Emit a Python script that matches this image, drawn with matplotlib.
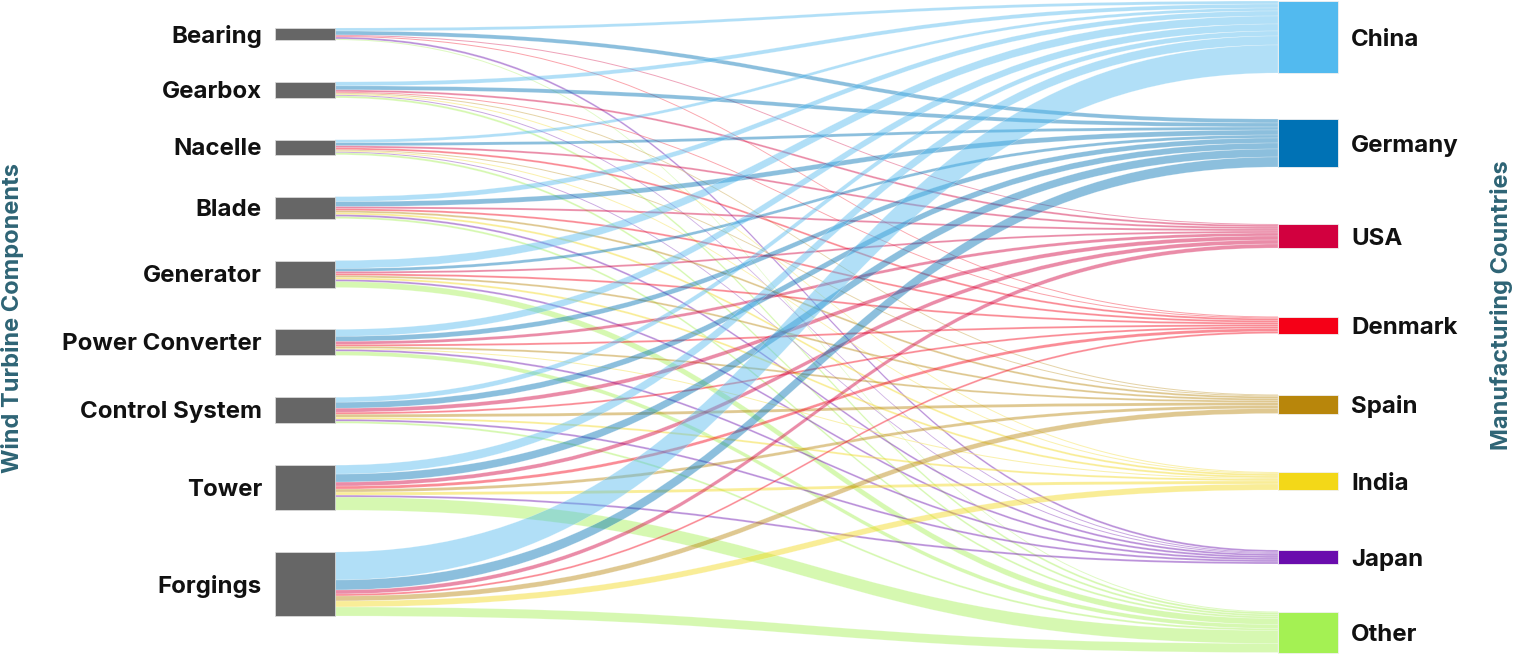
import matplotlib
matplotlib.use("Agg")
import matplotlib.pyplot as plt
from matplotlib.path import Path
from matplotlib.patches import PathPatch, Rectangle
from matplotlib.colors import to_rgba

plt.rcParams["font.family"] = ["Inter", "DejaVu Sans"]

components = ["Bearing", "Gearbox", "Nacelle", "Blade", "Generator",
              "Power Converter", "Control System", "Tower", "Forgings"]
countries = ["China", "Germany", "USA", "Denmark", "Spain", "India", "Japan", "Other"]
country_colors = ["#52BAEF", "#0072B5", "#D2003F", "#F50017",
                  "#B8860B", "#F3D818", "#6A0DAD", "#A4F153"]

# flow values: one row per component, columns follow `countries`
flows = [
    [3, 4, 1, 1, 0, 0, 2, 1],     # Bearing
    [4, 4, 2, 1, 1, 1, 1, 2],     # Gearbox
    [3, 3, 2, 2, 1, 1, 1, 2],     # Nacelle
    [5, 5, 2, 2, 2, 2, 2, 2],     # Blade
    [8, 3, 2, 2, 2, 2, 2, 6],     # Generator
    [7, 5, 3, 2, 2, 1, 2, 4],     # Power Converter
    [5, 6, 4, 2, 3, 2, 2, 2],     # Control System
    [9, 8, 4, 3, 3, 3, 2, 13],    # Tower
    [28, 10, 4, 2, 5, 6, 0, 9],   # Forgings
]

# layout (figure pixels)
W, H = 1517, 654
left_x0, left_x1 = 275, 335
right_x0, right_x1 = 1278, 1338
left_top, left_bottom = 28, 616
right_centers = [37, 143, 236, 325, 404, 481, 557, 632]

fig = plt.figure(figsize=(W / 100, H / 100), dpi=100)
ax = fig.add_axes([0, 0, 1, 1])
ax.set_xlim(0, W)
ax.set_ylim(H, 0)
ax.axis("off")

src_tot = [sum(r) for r in flows]
tgt_tot = [sum(flows[i][j] for i in range(len(components))) for j in range(len(countries))]
scale = 1.0
gap = (left_bottom - left_top - scale * sum(src_tot)) / (len(components) - 1)

src_y = []
y = left_top
for t in src_tot:
    src_y.append(y)
    y += t * scale + gap
tgt_y = [c - t * scale / 2 for c, t in zip(right_centers, tgt_tot)]

# links
src_off = list(src_y)
tgt_off = list(tgt_y)
xm = (left_x1 + right_x0) / 2
for i in range(len(components)):
    for j in range(len(countries)):
        v = flows[i][j] * scale
        if v <= 0:
            continue
        s0, s1 = src_off[i], src_off[i] + v
        t0, t1 = tgt_off[j], tgt_off[j] + v
        src_off[i] = s1
        tgt_off[j] = t1
        verts = [(left_x1, s0), (xm, s0), (xm, t0), (right_x0, t0),
                 (right_x0, t1), (xm, t1), (xm, s1), (left_x1, s1), (left_x1, s0)]
        codes = [Path.MOVETO, Path.CURVE4, Path.CURVE4, Path.CURVE4,
                 Path.LINETO, Path.CURVE4, Path.CURVE4, Path.CURVE4, Path.CLOSEPOLY]
        ax.add_patch(PathPatch(Path(verts, codes),
                               facecolor=to_rgba(country_colors[j], 0.45),
                               edgecolor=(1, 1, 1, 0.35), lw=0.4))

# nodes
for i, name in enumerate(components):
    h = src_tot[i] * scale
    ax.add_patch(Rectangle((left_x0, src_y[i]), left_x1 - left_x0, h,
                           facecolor="#666666", edgecolor="#d8d8d8", lw=0.6, zorder=3))
    ax.text(left_x0 - 13, src_y[i] + h / 2 + 2, name, ha="right", va="center",
            fontsize=17.3, fontweight="bold", color="#111111")

for j, name in enumerate(countries):
    h = tgt_tot[j] * scale
    ax.add_patch(Rectangle((right_x0, tgt_y[j]), right_x1 - right_x0, h,
                           facecolor=country_colors[j], edgecolor="#f0f0f0", lw=0.6, zorder=3))
    ax.text(right_x1 + 13, tgt_y[j] + h / 2 + 3, name, ha="left", va="center",
            fontsize=17.3, fontweight="bold", color="#111111")

ax.text(13, 318, "Wind Turbine Components", rotation=90, ha="center", va="center",
        fontsize=17, fontweight="bold", color="#2E6475")
ax.text(1502, 305, "Manufacturing Countries", rotation=90, ha="center", va="center",
        fontsize=17, fontweight="bold", color="#2E6475")

fig.savefig("out.png", dpi=100)
